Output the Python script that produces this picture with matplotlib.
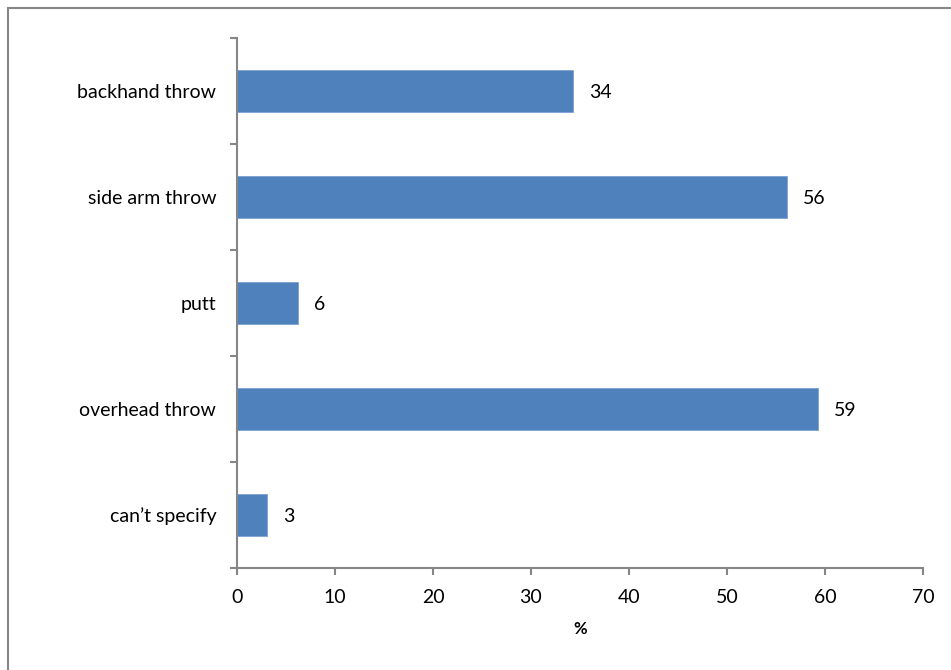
import numpy as np
import matplotlib
matplotlib.use("Agg")
import matplotlib.pyplot as plt
from matplotlib.patches import Rectangle

# data, bottom to top as drawn
categories = ["can\u2019t specify", "overhead throw", "putt", "side arm throw", "backhand throw"]
percent = [3.1, 59.3, 6.25, 56.15, 34.3]
bar_labels = ["3", "59", "6", "56", "34"]

plt.rcParams['font.family'] = ['Lato', 'DejaVu Sans']
fs = 14

fig = plt.figure(figsize=(9.51, 6.70), dpi=100)
fig.patches.append(Rectangle((8 / 951, -0.1), 1.2, 1.1 - 8 / 670, transform=fig.transFigure,
                             fill=False, edgecolor='#868686', linewidth=1.5, zorder=0))

ax = fig.add_axes([237 / 951, 1 - 568 / 670, 686 / 951, 530 / 670])
y = np.arange(len(categories))
bars = ax.barh(y, percent, height=0.4, color='#4F81BD', edgecolor='#7DA2D0', linewidth=0.6)

for b, lab in zip(bars, bar_labels):
    ax.annotate(lab, (b.get_width(), b.get_y() + b.get_height() / 2), xytext=(11.5, 0),
                textcoords='offset points', ha='left', va='center_baseline', fontsize=fs)

ax.set_xlim(0, 70)
ax.set_ylim(-0.5, len(categories) - 0.5)
ax.set_xticks(np.arange(0, 71, 10))
ax.set_yticks(y)
ax.set_yticklabels(categories)
ax.set_yticks(np.arange(-0.5, len(categories)), minor=True)
ax.tick_params(axis='y', which='major', length=0, pad=15, labelsize=fs)
ax.tick_params(axis='y', which='minor', length=5, color='#868686', width=1.5, direction='out')
ax.tick_params(axis='x', length=5, color='#868686', width=1.5, direction='out', pad=10, labelsize=fs)

for s in ['top', 'right']:
    ax.spines[s].set_visible(False)
for s in ['left', 'bottom']:
    ax.spines[s].set_color('#868686')
    ax.spines[s].set_linewidth(1.5)

ax.set_xlabel('%', fontweight='bold', fontsize=12, labelpad=11)

fig.savefig('out.png', dpi=100)
